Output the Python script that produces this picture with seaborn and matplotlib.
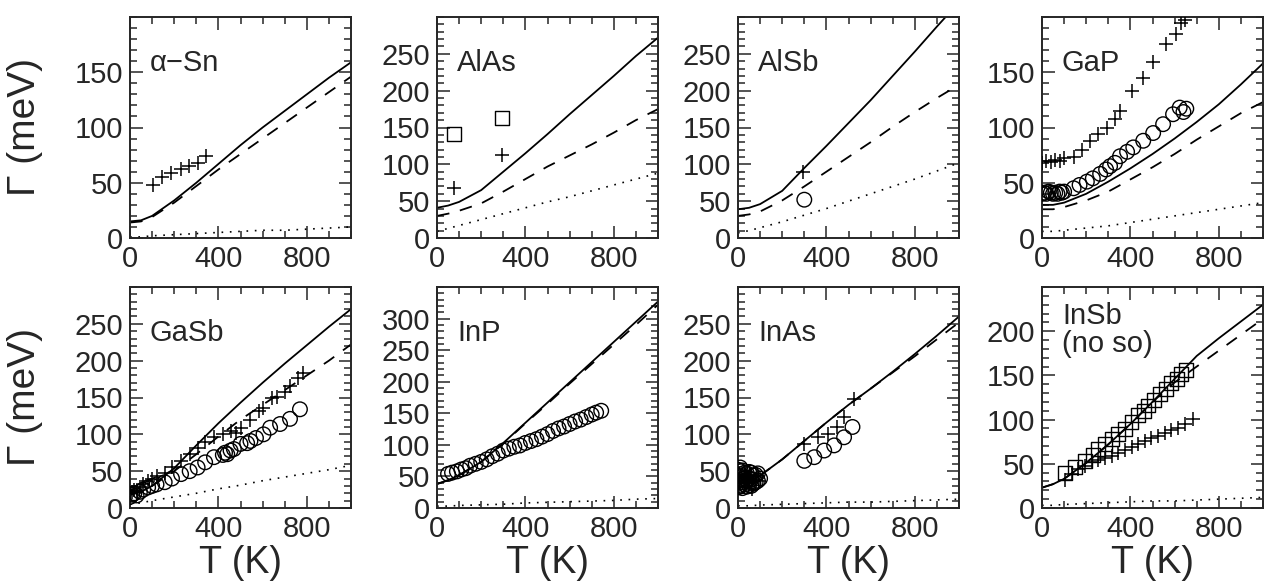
import numpy as np
import pandas as pd
import matplotlib
matplotlib.use("Agg")
import matplotlib.pyplot as plt
from matplotlib.ticker import MultipleLocator, FixedLocator
import seaborn as sns

# ---------------- data ----------------
T_curve = [0, 50, 100, 200, 300, 400, 500, 600, 700, 800, 900, 1000]

names = ["α−Sn", "AlAs", "AlSb", "GaP", "GaSb", "InP", "InAs", "InSb\n(no so)"]
keys = ["α−Sn", "AlAs", "AlSb", "GaP", "GaSb", "InP", "InAs", "InSb"]
ymax = [200, 300, 300, 200, 300, 350, 300, 250]

solid = {
    "α−Sn": [15, 16, 20, 34, 50, 67, 84, 100, 115, 130, 145, 159],
    "AlAs": [41, 44, 49, 65, 90, 115, 141, 168, 194, 220, 247, 272],
    "AlSb": [39, 41, 46, 64, 95, 125, 156, 187, 220, 253, 287, 320],
    "GaP":  [30, 30, 32, 40, 51, 63, 76, 90, 105, 121, 139, 158],
    "GaSb": [18, 22, 30, 54, 85, 115, 143, 170, 196, 221, 246, 270],
    "InP":  [38, 44, 52, 73, 103, 135, 167, 199, 231, 263, 295, 327],
    "InAs": [32, 36, 44, 66, 91, 116, 140, 162, 185, 209, 234, 260],
    "InSb": [23, 27, 33, 51, 72, 95, 120, 146, 172, 192, 211, 230],
}
dashed = {
    "α−Sn": [14, 15, 19, 32, 47, 62, 76, 90, 104, 118, 132, 146],
    "AlAs": [30, 33, 37, 47, 63, 80, 97, 112, 127, 143, 160, 175],
    "AlSb": [30, 32, 36, 51, 70, 90, 110, 130, 151, 171, 190, 208],
    "GaP":  [26, 26, 28, 34, 42, 53, 64, 76, 89, 101, 113, 123],
    "GaSb": [18, 22, 30, 50, 73, 97, 120, 140, 160, 180, 200, 222],
    "InP":  [38, 44, 52, 73, 102, 134, 165, 197, 228, 259, 290, 322],
    "InAs": [32, 36, 44, 66, 91, 116, 140, 162, 184, 206, 229, 252],
    "InSb": [23, 27, 33, 51, 72, 95, 120, 142, 160, 178, 196, 214],
}
dotted = {
    "α−Sn": [1, 1, 2, 3, 4, 5, 6, 7, 7, 8, 9, 10],
    "AlAs": [9, 13, 17, 25, 33, 41, 49, 56, 64, 72, 80, 88],
    "AlSb": [7, 10, 14, 22, 31, 40, 50, 60, 70, 80, 91, 102],
    "GaP":  [6, 6, 7, 9, 11, 14, 17, 20, 23, 26, 29, 32],
    "GaSb": [5, 7, 10, 15, 20, 26, 31, 37, 42, 47, 52, 58],
    "InP":  [3, 3, 4, 5, 6, 8, 9, 10, 11, 12, 14, 15],
    "InAs": [3, 3, 4, 5, 6, 7, 8, 8, 9, 10, 11, 12],
    "InSb": [3, 3, 4, 5, 6, 7, 8, 8, 9, 10, 11, 12],
}

# experimental points: plus markers
plus_T = {
    "α−Sn": [104, 144, 185, 230, 267, 308, 344],
    "AlAs": [75, 293],
    "AlSb": [293],
    "GaP":  [0, 20, 40, 60, 80, 100, 143, 180, 218, 255, 293, 330, 353, 405, 458, 503, 563, 608, 630, 645],
    "GaSb": [0, 10, 20, 30, 45, 60, 82, 100, 120, 157, 190, 231, 270, 306, 340, 380, 420, 455, 480, 500,
             545, 584, 604, 643, 664, 700, 724, 760, 783],
    "InAs": [5, 15, 25, 35, 45, 55, 65, 75, 85, 95, 300, 360, 405, 450, 480, 525],
    "InSb": [105, 135, 165, 195, 225, 255, 285, 315, 345, 375, 405, 435, 465, 495, 525, 555, 585, 615, 645, 683],
}
plus_G = {
    "α−Sn": [48, 55, 59, 62, 65, 68, 74],
    "AlAs": [68, 113],
    "AlSb": [89],
    "GaP":  [68, 70, 69, 71, 70, 72, 73, 80, 88, 94, 100, 108, 115, 133, 145, 159, 176, 185, 195, 197],
    "GaSb": [20, 22, 25, 23, 28, 32, 37, 40, 44, 48, 56, 64, 73, 82, 89, 96, 101, 105, 102, 108,
             119, 132, 136, 149, 151, 158, 166, 177, 183],
    "InAs": [30, 42, 28, 45, 35, 40, 26, 38, 44, 36, 87, 96, 100, 110, 123, 148],
    "InSb": [32, 38, 44, 48, 52, 54, 56, 59, 62, 66, 69, 72, 76, 79, 82, 85, 88, 91, 95, 101],
}
# open circles
circ_T = {
    "AlSb": [300],
    "GaP":  [0, 10, 20, 30, 40, 50, 60, 70, 80, 90, 100, 143, 170, 203, 230, 263, 290, 308, 330, 353,
             385, 413, 458, 503, 548, 593, 623, 640, 653],
    "GaSb": [0, 10, 20, 30, 45, 60, 82, 100, 120, 157, 190, 231, 270, 306, 340, 380, 420, 430, 440, 455,
             470, 500, 530, 545, 570, 604, 634, 679, 724, 769],
    "InP":  [50, 68, 90, 110, 130, 150, 175, 200, 225, 250, 275, 300, 325, 350, 375, 400, 425, 450, 475,
             500, 525, 550, 575, 600, 625, 650, 675, 700, 720, 743],
    "InAs": [0, 0, 0, 0, 10, 10, 10, 10, 20, 20, 20, 20, 30, 30, 30, 40, 40, 40, 50, 50, 50, 60, 60, 60,
             70, 70, 80, 80, 90, 90, 100, 300, 345, 390, 435, 480, 518],
}
circ_G = {
    "AlSb": [52],
    "GaP":  [40, 41, 40, 42, 41, 40, 41, 40, 42, 41, 42, 45, 48, 51, 54, 58, 62, 65, 68, 74,
             78, 82, 88, 95, 103, 112, 118, 114, 117],
    "GaSb": [15, 18, 20, 17, 22, 25, 28, 30, 32, 35, 40, 46, 50, 55, 62, 69, 72, 75, 73, 78,
             80, 87, 88, 91, 95, 100, 109, 114, 121, 134],
    "InP":  [54, 56, 58, 61, 63, 67, 70, 73, 77, 82, 86, 91, 94, 97, 99, 103, 106, 109, 113,
             117, 122, 126, 129, 133, 137, 140, 144, 148, 151, 154],
    "InAs": [28, 36, 44, 52, 30, 38, 46, 55, 27, 35, 43, 51, 32, 40, 48, 29, 38, 47, 31, 40, 49, 30, 39, 48,
             33, 44, 35, 45, 37, 47, 40, 64, 69, 78, 85, 96, 110],
}
# open squares
sq_T = {
    "AlAs": [75, 293],
    "InSb": [105, 150, 195, 230, 255, 285, 315, 345, 375, 405, 435, 460, 480, 505, 533, 560, 585, 610, 630, 653],
}
sq_G = {
    "AlAs": [141, 163],
    "InSb": [40, 46, 53, 60, 67, 72, 78, 84, 89, 97, 105, 110, 116, 122, 129, 135, 141, 146, 152, 156],
}

# ---------------- style ----------------
sns.set_style("ticks")
plt.rcParams["font.family"] = ["Liberation Sans", "DejaVu Sans"]
plt.rcParams["axes.linewidth"] = 1.4

fig = plt.figure(figsize=(12.65, 5.84), dpi=100)
W, H = 1265.0, 584.0
lefts = [130, 437, 738, 1042]
tops = [17, 287]
pw, ph = 221, 221

FS = 21
for i, name in enumerate(names):
    key = keys[i]
    r, c = divmod(i, 4)
    ax = fig.add_axes([lefts[c] / W, 1 - (tops[r] + ph) / H, pw / W, ph / H])
    sns.lineplot(x=T_curve, y=solid[key], ax=ax, color="black", lw=1.3)
    sns.lineplot(x=T_curve, y=dashed[key], ax=ax, color="black", lw=1.3, linestyle=(0, (7, 6)))
    sns.lineplot(x=T_curve, y=dotted[key], ax=ax, color="black", lw=1.2, linestyle=(0, (1, 4)))
    if plus_T.get(key):
        sns.scatterplot(x=plus_T[key], y=plus_G[key], ax=ax, marker="+", color="black",
                        s=90, linewidth=1.1, zorder=5)
    if circ_T.get(key):
        sns.scatterplot(x=circ_T[key], y=circ_G[key], ax=ax, marker="o", s=110,
                        facecolor="none", edgecolor="black", linewidth=1.0, zorder=5)
    if sq_T.get(key):
        sns.scatterplot(x=sq_T[key], y=sq_G[key], ax=ax, marker="s", s=100,
                        facecolor="none", edgecolor="black", linewidth=1.0, zorder=5)
    ax.set_xlim(0, 1000)
    ax.set_ylim(0, ymax[i])
    ax.xaxis.set_major_locator(FixedLocator([0, 400, 800]))
    ax.xaxis.set_minor_locator(MultipleLocator(100))
    ax.yaxis.set_major_locator(FixedLocator(list(range(0, ymax[i], 50))))
    ax.yaxis.set_minor_locator(MultipleLocator(10))
    ax.tick_params(which="both", direction="in", top=True, right=True, width=1.1)
    ax.tick_params(which="major", length=9, labelsize=FS, pad=5)
    ax.tick_params(which="minor", length=5)
    ax.set_xlabel("")
    ax.set_ylabel("")
    if "\n" in name:
        ax.text(0.09, 0.93, name, transform=ax.transAxes, fontsize=FS, va="top", ha="left",
                linespacing=1.0)
    else:
        ax.text(0.09, 0.79, name, transform=ax.transAxes, fontsize=FS, va="center", ha="left")

# axis titles
for r in range(2):
    yc = 1 - (tops[r] + ph / 2) / H
    fig.text(25 / W, yc, "Γ (meV)", rotation=90, fontsize=28, ha="center", va="center")
for c in range(4):
    xc = (lefts[c] + pw / 2) / W
    fig.text(xc, 1 - 563 / H, "T (K)", fontsize=27, ha="center", va="center")

fig.savefig("out.png", dpi=100)
